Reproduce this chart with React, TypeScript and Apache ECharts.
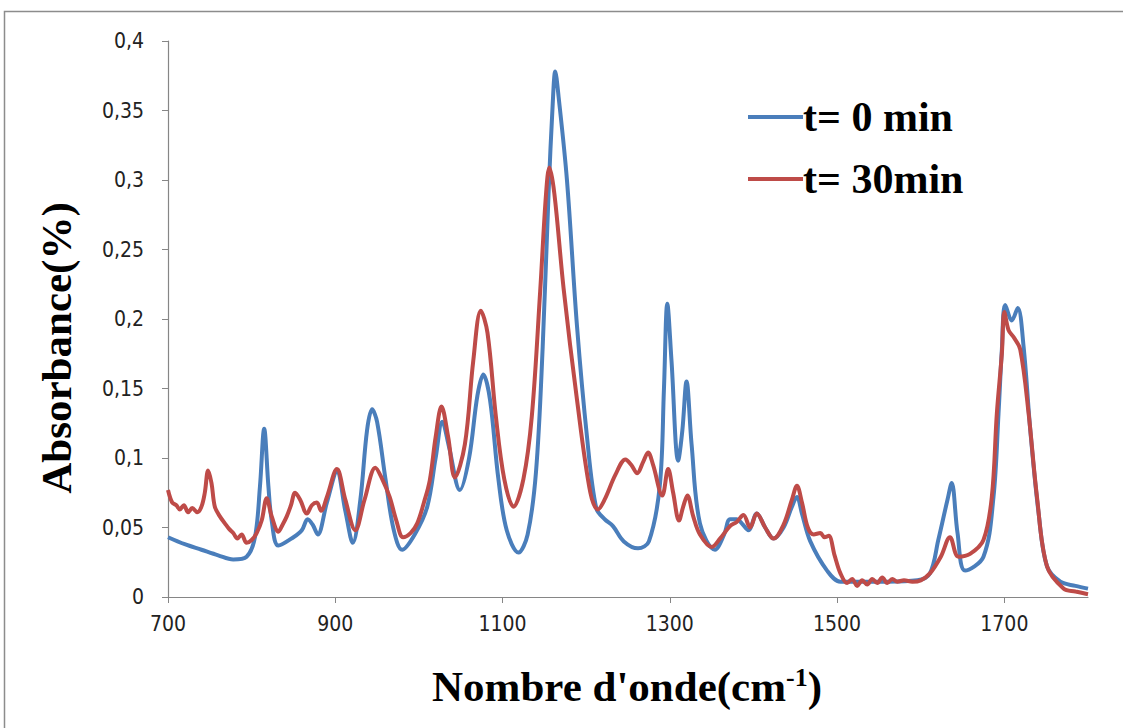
import React, { useEffect, useRef } from "react";
import * as echarts from "echarts";

// FTIR spectra: wavenumber (cm-1) vs absorbance, two sampling times
const seriesNames = ["t= 0 min", "t= 30min"];

const t0: [number, number][] = [
  [700, 0.043], [720, 0.038], [740, 0.034], [760, 0.030], [778, 0.027], [794, 0.029],
  [804, 0.043], [810, 0.08], [815, 0.121], [820, 0.08], [824, 0.055], [832, 0.037],
  [850, 0.043], [860, 0.048], [867, 0.056], [873, 0.052], [879, 0.045], [890, 0.068],
  [902, 0.09], [912, 0.062], [921, 0.039], [930, 0.07], [938, 0.12], [944, 0.135],
  [950, 0.126], [960, 0.085], [970, 0.048], [980, 0.034], [995, 0.045], [1010, 0.065],
  [1020, 0.1], [1028, 0.126], [1036, 0.108], [1049, 0.077], [1060, 0.1], [1070, 0.145],
  [1077, 0.16], [1085, 0.142], [1095, 0.085], [1105, 0.048], [1119, 0.032], [1130, 0.045],
  [1140, 0.09], [1148, 0.18], [1155, 0.29], [1160, 0.355], [1163, 0.378], [1167, 0.36],
  [1177, 0.3], [1189, 0.195], [1201, 0.115], [1212, 0.064], [1222, 0.056], [1232, 0.051],
  [1245, 0.04], [1262, 0.035], [1275, 0.04], [1288, 0.08], [1293, 0.15], [1297, 0.211],
  [1302, 0.17], [1310, 0.098], [1315, 0.12], [1320, 0.155], [1326, 0.11], [1336, 0.053],
  [1354, 0.034], [1365, 0.045], [1372, 0.056], [1380, 0.056], [1386, 0.053], [1394, 0.048],
  [1404, 0.06], [1414, 0.05], [1424, 0.042], [1436, 0.05], [1446, 0.065], [1452, 0.072],
  [1458, 0.06], [1468, 0.04], [1488, 0.019], [1504, 0.011], [1530, 0.011], [1560, 0.011],
  [1596, 0.012], [1611, 0.017], [1621, 0.041], [1632, 0.07], [1637, 0.082], [1644, 0.046],
  [1653, 0.019], [1675, 0.029], [1687, 0.072], [1693, 0.132], [1697, 0.178], [1701, 0.21],
  [1709, 0.199], [1716, 0.208], [1723, 0.18], [1731, 0.12], [1741, 0.06], [1751, 0.022],
  [1767, 0.011], [1785, 0.008], [1800, 0.006],
];

const t30: [number, number][] = [
  [700, 0.077], [705, 0.068], [710, 0.066], [714, 0.063], [719, 0.066], [724, 0.061],
  [729, 0.064], [735, 0.061], [740, 0.065], [744, 0.075], [748, 0.091], [752, 0.082],
  [756, 0.065], [762, 0.058], [768, 0.053], [773, 0.049], [778, 0.046], [783, 0.042],
  [788, 0.045], [794, 0.039], [800, 0.041], [806, 0.046], [812, 0.055], [818, 0.071],
  [824, 0.058], [832, 0.047], [837, 0.052], [842, 0.058], [847, 0.066], [852, 0.075],
  [858, 0.07], [866, 0.06], [872, 0.066], [878, 0.068], [883, 0.062], [890, 0.072],
  [902, 0.092], [912, 0.07], [924, 0.048], [935, 0.07], [948, 0.093], [956, 0.085],
  [965, 0.072], [973, 0.055], [981, 0.043], [990, 0.046], [998, 0.053], [1006, 0.068],
  [1013, 0.084], [1020, 0.115], [1027, 0.137], [1035, 0.115], [1043, 0.086], [1055, 0.11],
  [1065, 0.17], [1074, 0.206], [1082, 0.19], [1092, 0.13], [1102, 0.085], [1113, 0.065],
  [1125, 0.085], [1135, 0.13], [1145, 0.22], [1152, 0.29], [1156, 0.309], [1162, 0.29],
  [1173, 0.222], [1189, 0.142], [1205, 0.075], [1214, 0.063], [1222, 0.07], [1235, 0.088],
  [1247, 0.099], [1254, 0.095], [1261, 0.089], [1268, 0.097], [1274, 0.104], [1280, 0.095],
  [1291, 0.073], [1298, 0.092], [1304, 0.075], [1311, 0.055], [1316, 0.065], [1321, 0.073],
  [1328, 0.058], [1336, 0.045], [1350, 0.036], [1360, 0.042], [1372, 0.051], [1380, 0.054],
  [1388, 0.059], [1396, 0.05], [1404, 0.06], [1414, 0.05], [1424, 0.042], [1436, 0.052],
  [1446, 0.07], [1452, 0.08], [1458, 0.068], [1465, 0.05], [1472, 0.045], [1480, 0.046],
  [1485, 0.043], [1490, 0.044], [1497, 0.03], [1504, 0.017], [1512, 0.01], [1518, 0.013],
  [1524, 0.008], [1530, 0.012], [1536, 0.009], [1542, 0.013], [1548, 0.01], [1554, 0.014],
  [1560, 0.01], [1566, 0.013], [1572, 0.011], [1580, 0.012], [1590, 0.011], [1600, 0.012],
  [1611, 0.017], [1624, 0.029], [1635, 0.043], [1645, 0.029], [1659, 0.031], [1675, 0.041],
  [1685, 0.072], [1691, 0.132], [1697, 0.175], [1700, 0.205], [1705, 0.192], [1711, 0.187],
  [1719, 0.178], [1729, 0.132], [1739, 0.072], [1751, 0.022], [1771, 0.006], [1785, 0.004],
  [1800, 0.002],
];

const xTicks = [700, 900, 1100, 1300, 1500, 1700];
const yTicks = [0, 0.05, 0.1, 0.15, 0.2, 0.25, 0.3, 0.35, 0.4];

const colors = ["#4A7EBB", "#BE4B48"];
const axisGray = "#868686";
const tickFont = "'Liberation Sans Narrow', 'DejaVu Sans Condensed', 'Liberation Sans', sans-serif";
const titleFont = "'Liberation Serif', 'DejaVu Serif', serif";

const fmtComma = (v: number) => String(+v.toFixed(2)).replace(".", ",");

export default function App() {
  const ref = useRef<HTMLDivElement>(null);

  useEffect(() => {
    document.body.style.margin = "0";
    if (!ref.current) return;
    const chart = echarts.init(ref.current, undefined, { renderer: "svg" });

    chart.setOption({
      animation: false,
      backgroundColor: "#ffffff",
      color: colors,
      grid: { left: 168, right: 35, top: 41, bottom: 131, outerBoundsMode: "none" },
      legend: {
        data: seriesNames,
        orient: "vertical",
        left: 748,
        top: 96,
        padding: 0,
        icon: "rect",
        itemWidth: 55,
        itemHeight: 4,
        itemGap: 20,
        textStyle: {
          fontFamily: titleFont,
          fontWeight: "bold",
          fontSize: 42,
          lineHeight: 42,
          color: "#000",
          padding: [0, 0, 0, -5],
        },
      },
      xAxis: {
        type: "value",
        min: 700,
        max: 1800,
        axisLine: { show: true, onZero: false, lineStyle: { color: axisGray, width: 1.2 } },
        axisTick: {
          show: true,
          inside: false,
          length: 6,
          customValues: xTicks,
          lineStyle: { color: axisGray },
        },
        axisLabel: {
          customValues: xTicks,
          margin: 16,
          fontFamily: tickFont,
          fontSize: 21,
          color: "#222",
          formatter: (v: number) => String(v),
        },
        splitLine: { show: false },
      },
      yAxis: {
        type: "value",
        min: 0,
        max: 0.4,
        interval: 0.05,
        axisLine: { show: true, lineStyle: { color: axisGray, width: 1.2 } },
        axisTick: { show: true, inside: false, length: 6, lineStyle: { color: axisGray } },
        axisLabel: {
          margin: 24,
          fontFamily: tickFont,
          fontSize: 21,
          color: "#222",
          formatter: (v: number) => (yTicks.some((t) => Math.abs(t - v) < 1e-9) ? fmtComma(v) : ""),
        },
        splitLine: { show: false },
      },
      series: [
        {
          name: seriesNames[0],
          type: "line",
          data: t0,
          showSymbol: false,
          smooth: 0.35,
          lineStyle: { width: 4, color: colors[0] },
          itemStyle: { color: colors[0] },
          z: 2,
        },
        {
          name: seriesNames[1],
          type: "line",
          data: t30,
          showSymbol: false,
          smooth: 0.35,
          lineStyle: { width: 4, color: colors[1] },
          itemStyle: { color: colors[1] },
          z: 3,
        },
      ],
      graphic: [
        {
          type: "rect",
          shape: { x: 4.5, y: 11.5, width: 1140, height: 740 },
          style: { fill: "none", stroke: "#8c8c8c", lineWidth: 1.5 },
          silent: true,
        },
        {
          type: "text",
          x: 56,
          y: 348,
          rotation: Math.PI / 2,
          style: {
            text: "Absorbance(%)",
            font: `bold 43px ${titleFont}`,
            fill: "#000",
            align: "center",
            verticalAlign: "middle",
          },
        },
        {
          type: "text",
          x: 627,
          y: 686,
          style: {
            text: "Nombre d'onde(cm{sup|-1})",
            font: `bold 43px ${titleFont}`,
            fill: "#000",
            align: "center",
            verticalAlign: "middle",
            rich: {
              sup: {
                font: `bold 26px ${titleFont}`,
                fill: "#000",
                verticalAlign: "top",
                padding: [0, 0, 15, 0],
              },
            },
          },
        },
      ],
    });

    return () => chart.dispose();
  }, []);

  return <div ref={ref} style={{ width: 1123, height: 728 }} />;
}
